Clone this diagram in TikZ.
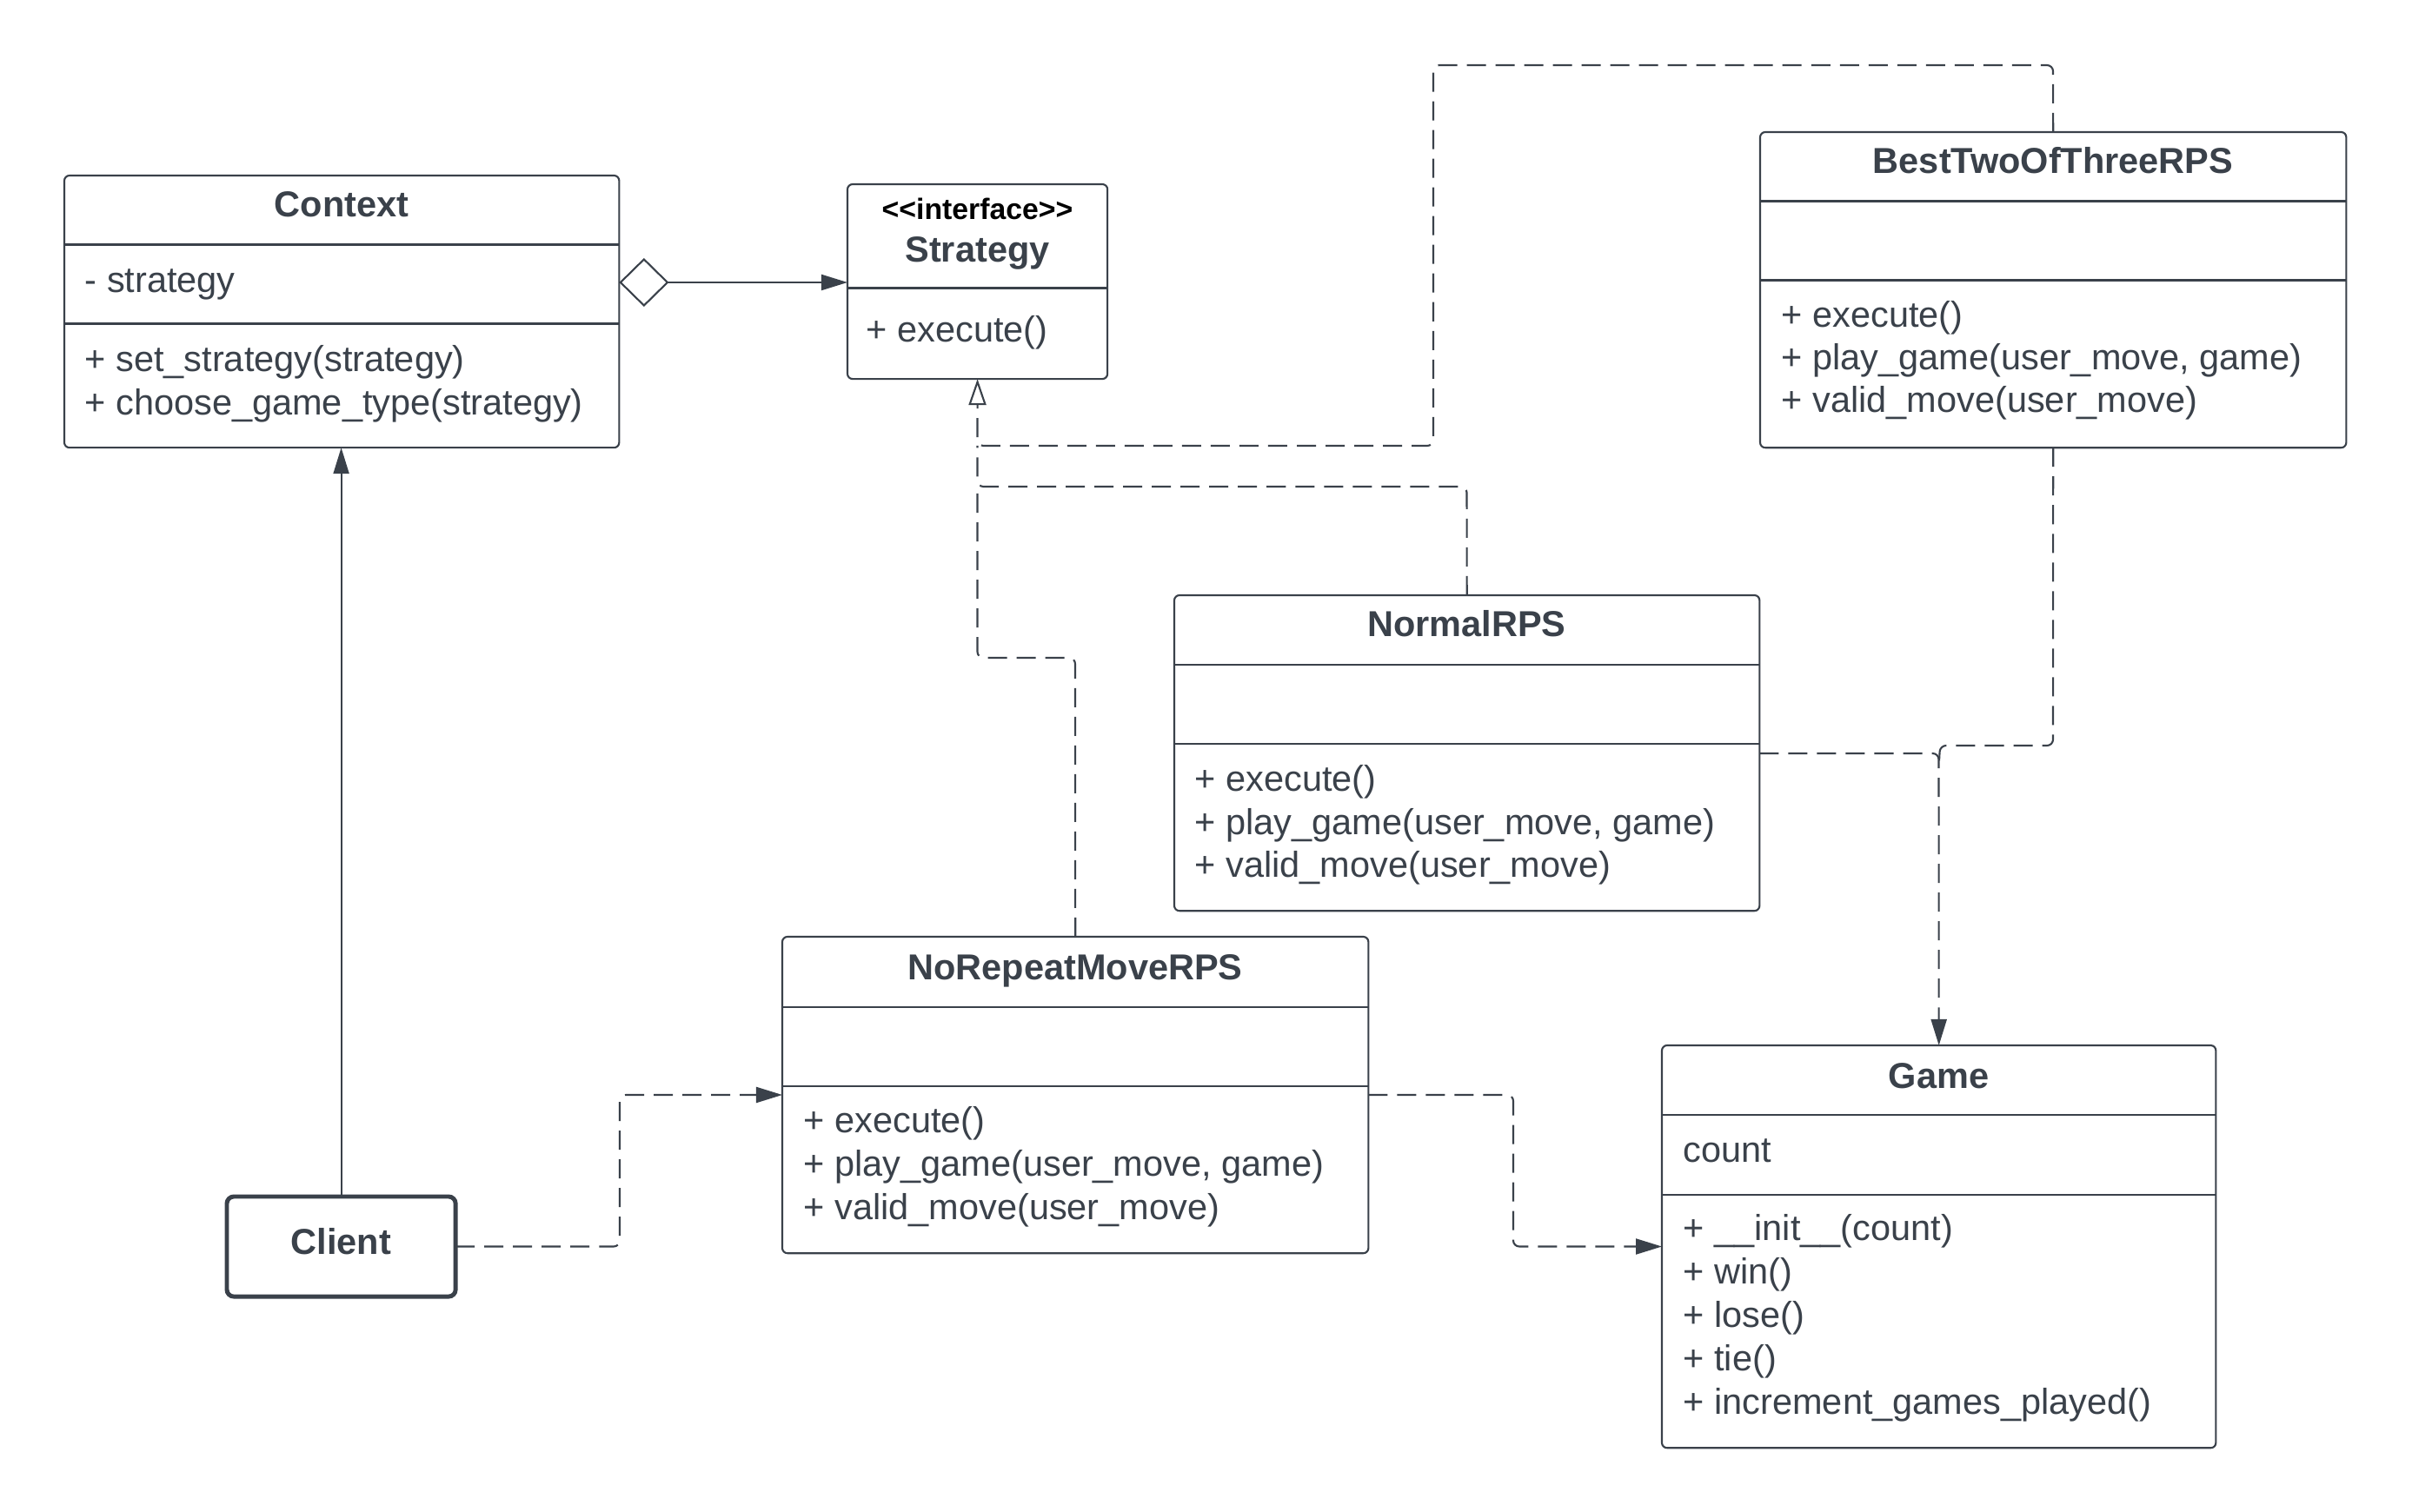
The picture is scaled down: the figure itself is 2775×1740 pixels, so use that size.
\documentclass[tikz,border=0pt]{standalone}
\usepackage{fontspec}
\setmainfont{Liberation Sans}
\usetikzlibrary{arrows.meta}
\definecolor{ink}{HTML}{3A414A}

\tikzset{
  umlbox/.style={draw=ink, line width=0.6pt, rounded corners=0.06cm, fill=white,
    inner sep=0pt, outer sep=0pt, anchor=north west},
  clientbox/.style={umlbox, line width=1.4pt, rounded corners=0.08cm},
  divline/.style={draw=ink, line width=0.85pt},
  member/.style={font=\fontsize{11.8}{14.2}\selectfont, text=ink, inner sep=0pt, anchor=base west},
  classname/.style={font=\fontsize{11.8}{14.2}\selectfont\bfseries, text=ink, inner sep=0pt, anchor=base},
  stereo/.style={font=\fontsize{9.6}{11.5}\selectfont\bfseries, text=black, inner sep=0pt, anchor=base},
  conn/.style={draw=ink, line width=0.6pt, rounded corners=0.07cm},
  dep/.style={conn, dash pattern=on 0.22cm off 0.11cm},
  filledhead/.style={-{Triangle[length=0.3cm,width=0.18cm]}},
  realize/.style={-{Triangle[open,length=0.3cm,width=0.2cm]}},
}

\begin{document}
\begin{tikzpicture}[x=0.01cm, y=-0.01cm]
  \fill[white] (0,0) rectangle (2775,1740);
  \useasboundingbox (0,0) rectangle (2775,1740);

  % ---- Context ----
  \node[umlbox, minimum width=6.38cm, minimum height=3.13cm] (ctx) at (74,202) {};
  \draw[divline] (ctx.west |- 0,282) -- (ctx.east |- 0,282);
  \draw[divline] (ctx.west |- 0,373) -- (ctx.east |- 0,373);
  \node[classname] (ctxT) at (393,250) {Context};
  \node[member] (ctxA) at (97,337) {- strategy};
  \node[member] (ctxM1) at (97,428) {+ set\_strategy(strategy)};
  \node[member] (ctxM2) at (97,478) {+ choose\_game\_type(strategy)};

  % ---- Strategy interface ----
  \node[umlbox, minimum width=2.99cm, minimum height=2.24cm] (strat) at (975,212) {};
  \draw[divline] (strat.west |- 0,332) -- (strat.east |- 0,332);
  \node[stereo] (stratS) at (1124.5,253) {<\kern0pt<interface>\kern0pt>};
  \node[classname] (stratT) at (1124.5,302) {Strategy};
  \node[member] (stratM1) at (996,394) {+ execute()};

  % ---- BestTwoOfThreeRPS ----
  \node[umlbox, minimum width=6.74cm, minimum height=3.63cm] (bt) at (2025,152) {};
  \draw[divline] (bt.west |- 0,232) -- (bt.east |- 0,232);
  \draw[divline] (bt.west |- 0,323) -- (bt.east |- 0,323);
  \node[classname] (btT) at (2362,200) {BestTwoOfThreeRPS};
  \node[member] (btM1) at (2049,377) {+ execute()};
  \node[member] (btM2) at (2049,426) {+ play\_game(user\_move, game)};
  \node[member] (btM3) at (2049,475) {+ valid\_move(user\_move)};

  % ---- NormalRPS ----
  \node[umlbox, minimum width=6.73cm, minimum height=3.63cm] (nrm) at (1351,685) {};
  \draw[divline] (nrm.west |- 0,765) -- (nrm.east |- 0,765);
  \draw[divline] (nrm.west |- 0,856) -- (nrm.east |- 0,856);
  \node[classname] (nrmT) at (1687.5,733) {NormalRPS};
  \node[member] (nrmM1) at (1374,911) {+ execute()};
  \node[member] (nrmM2) at (1374,960) {+ play\_game(user\_move, game)};
  \node[member] (nrmM3) at (1374,1009) {+ valid\_move(user\_move)};

  % ---- NoRepeatMoveRPS ----
  \node[umlbox, minimum width=6.74cm, minimum height=3.64cm] (nr) at (900,1078) {};
  \draw[divline] (nr.west |- 0,1159) -- (nr.east |- 0,1159);
  \draw[divline] (nr.west |- 0,1250) -- (nr.east |- 0,1250);
  \node[classname] (nrT) at (1237,1127) {NoRepeatMoveRPS};
  \node[member] (nrM1) at (924,1303) {+ execute()};
  \node[member] (nrM2) at (924,1353) {+ play\_game(user\_move, game)};
  \node[member] (nrM3) at (924,1403) {+ valid\_move(user\_move)};

  % ---- Game ----
  \node[umlbox, minimum width=6.37cm, minimum height=4.63cm] (game) at (1912,1203) {};
  \draw[divline] (game.west |- 0,1283) -- (game.east |- 0,1283);
  \draw[divline] (game.west |- 0,1375) -- (game.east |- 0,1375);
  \node[classname] (gameT) at (2230.5,1252) {Game};
  \node[member] (gameA) at (1936,1337) {count};
  \node[member] (gameM1) at (1936,1427) {+ \_\_init\_\_(count)};
  \node[member] (gameM2) at (1936,1477) {+ win()};
  \node[member] (gameM3) at (1936,1527) {+ lose()};
  \node[member] (gameM4) at (1936,1577) {+ tie()};
  \node[member] (gameM5) at (1936,1627) {+ increment\_games\_played()};

  % ---- Client ----
  \node[clientbox, minimum width=2.63cm, minimum height=1.15cm] (cl) at (261,1377) {};
  \node[classname] (clT) at (392.5,1443) {Client};

  % ---- junction points on the realization lines ----
  \coordinate (jA) at (1124.5,513);
  \coordinate (jB) at (1124.5,560);
  \coordinate (jG) at (2230.5,885);

  % ---- connectors ----
  % aggregation Context -> Strategy
  \draw[conn, {Diamond[open,length=0.57cm,width=0.56cm]}-{Triangle[length=0.3cm,width=0.18cm]}]
    (ctx.east |- 0,325) -- (strat.west |- 0,325);
  % Client -> Context
  \draw[conn, filledhead] (cl.north) -- (cl.north |- ctx.south);

  % realizations of Strategy
  \draw[dep, realize] (bt.north) -- (2362,75) -- (1649,75) -- (1649,513) -- (jA) -- (strat.south);
  \draw[dep] (nrm.north) -- (1687.5,560) -- (jB) -- (jA);
  \draw[dep] (nr.north) -- (1237,757) -- (1124.5,757) -- (jB);

  % dependencies on Game
  \draw[dep, filledhead] (nrm.east |- 0,867) -- (2230.5,867) -- (game.north);
  \draw[dep] (bt.south) -- (2362,858) -- (2232,858) -- (jG);

  % Client -> NoRepeatMoveRPS and NoRepeatMoveRPS -> Game
  \draw[dep, filledhead] (cl.east) -- (713,1434.5) -- (713,1260) -- (nr.west |- 0,1260);
  \draw[dep, filledhead] (nr.east |- 0,1260) -- (1741,1260) -- (1741,1434.5) -- (game.west |- 0,1434.5);
\end{tikzpicture}
\end{document}
